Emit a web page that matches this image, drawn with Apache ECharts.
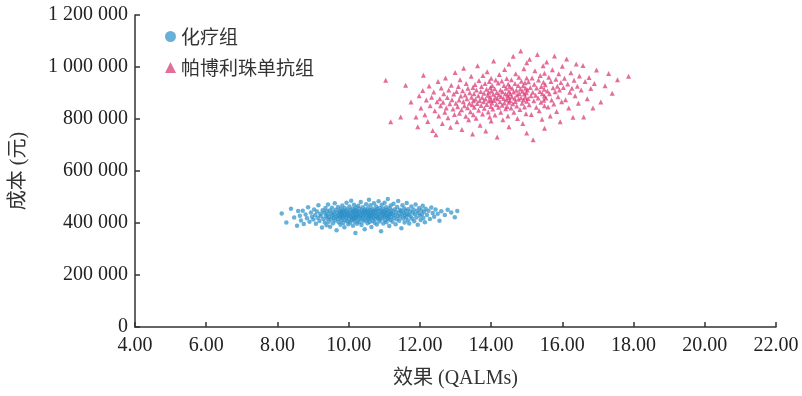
<!DOCTYPE html>
<html>
<head>
<meta charset="utf-8">
<script src="https://cdn.jsdelivr.net/npm/echarts@6/dist/echarts.min.js"></script>
<style>
  html, body { margin: 0; padding: 0; background: #fff; }
  #chart { width: 802px; height: 396px; }
</style>
</head>
<body>
<div id="chart"></div>
<script>
// 图例名称
var seriesNames = ["化疗组", "帕博利珠单抗组"];
// 坐标轴刻度
var xTicks = [4, 6, 8, 10, 12, 14, 16, 18, 20, 22];
var yTicks = [0, 200000, 400000, 600000, 800000, 1000000, 1200000];

// 化疗组 [效果 QALMs, 成本 元]
var chemoPoints = [
  [8.12,437000],[8.25,402000],[8.38,455000],[8.47,421000],[8.55,389000],[8.58,446000],
  [8.63,428000],[8.66,410000],[8.71,447000],[8.74,396000],[8.79,433000],[8.83,418000],[8.86,461000],[8.9,405000],[8.94,440000],[8.97,424000],
  [9.01,413000],[9.03,452000],[9.06,431000],[9.08,397000],[9.11,444000],[9.13,420000],[9.15,468000],[9.18,408000],[9.2,436000],[9.22,426000],
  [9.25,383000],[9.27,449000],[9.29,415000],[9.31,439000],[9.33,402000],[9.35,458000],[9.36,428000],[9.38,391000],[9.39,445000],[9.4,417000],
  [9.41,433000],[9.42,471000],[9.44,405000],[9.45,422000],[9.47,448000],[9.48,386000],[9.5,437000],[9.51,414000],[9.53,459000],[9.54,428000],
  [9.56,399000],[9.57,443000],[9.58,419000],[9.6,434000],[9.61,476000],[9.62,410000],[9.64,451000],[9.65,425000],[9.66,372000],[9.68,440000],
  [9.69,416000],[9.7,462000],[9.71,430000],[9.72,403000],[9.74,446000],[9.75,421000],[9.76,437000],[9.77,393000],[9.78,455000],[9.79,427000],
  [9.8,411000],[9.8,442000],
  [9.81,433000],[9.82,467000],[9.83,418000],[9.84,448000],[9.85,400000],[9.86,426000],[9.87,441000],[9.88,384000],[9.89,458000],[9.9,431000],
  [9.91,412000],[9.92,445000],[9.93,422000],[9.94,478000],[9.95,437000],[9.96,407000],[9.97,452000],[9.98,428000],[9.99,395000],[10.0,440000],
  [10.01,417000],[10.02,463000],[10.03,433000],[10.04,402000],[10.05,449000],[10.06,425000],[10.07,486000],[10.08,411000],[10.09,439000],[10.1,420000],
  [10.11,455000],[10.12,389000],[10.12,430000],[10.13,444000],[10.14,414000],[10.15,470000],[10.16,436000],[10.17,405000],[10.18,451000],[10.18,423000],
  [10.19,362000],[10.2,441000],[10.2,418000],[10.21,460000],[10.22,429000],
  [10.23,397000],[10.24,446000],[10.25,432000],[10.26,412000],[10.27,466000],[10.28,425000],[10.29,443000],[10.3,403000],[10.31,455000],[10.32,436000],
  [10.33,419000],[10.34,481000],[10.35,429000],[10.36,392000],[10.37,448000],[10.38,414000],[10.39,439000],[10.4,461000],[10.41,425000],[10.42,407000],
  [10.43,444000],[10.44,433000],[10.45,376000],[10.46,452000],[10.47,420000],[10.48,438000],[10.49,472000],[10.5,411000],[10.51,446000],[10.52,428000],
  [10.53,399000],[10.54,457000],[10.55,435000],[10.55,416000],[10.56,442000],[10.57,489000],[10.58,424000],[10.59,404000],[10.6,450000],[10.6,431000],
  [10.61,468000],[10.62,417000],[10.63,440000],[10.64,385000],[10.65,427000],[10.66,455000],[10.67,409000],[10.68,437000],[10.69,446000],[10.7,421000],
  [10.71,476000],[10.72,433000],[10.73,401000],[10.74,449000],[10.75,415000],[10.76,440000],[10.77,463000],[10.78,426000],[10.79,394000],[10.8,453000],
  [10.81,432000],[10.82,418000],[10.83,444000],[10.84,484000],[10.85,423000],[10.86,406000],[10.87,458000],[10.88,436000],[10.89,413000],[10.9,447000],
  [10.91,368000],[10.92,429000],[10.93,470000],[10.94,440000],[10.95,419000],[10.96,455000],[10.97,398000],[10.98,434000],[10.99,446000],[11.0,425000],
  [11.01,478000],[11.02,411000],[11.03,441000],[11.04,430000],[11.05,461000],[11.06,403000],[11.07,450000],[11.08,421000],[11.09,437000],[11.1,492000],
  [11.11,416000],[11.12,445000],[11.13,428000],[11.14,388000],[11.15,457000],[11.16,434000],[11.17,412000],[11.18,467000],[11.19,439000],[11.2,423000],
  [11.21,448000],[11.23,405000],[11.24,436000],[11.26,474000],[11.27,419000],[11.29,452000],[11.3,431000],[11.32,395000],[11.33,443000],[11.35,414000],
  [11.36,462000],[11.38,427000],[11.39,485000],[11.41,438000],[11.42,409000],[11.44,451000],[11.45,424000],[11.47,446000],[11.48,380000],[11.5,433000],
  [11.51,468000],[11.53,417000],[11.54,440000],[11.56,456000],[11.57,402000],[11.58,429000],[11.6,447000],[11.61,421000],[11.63,477000],[11.64,436000],
  [11.66,411000],[11.67,453000],[11.69,432000],[11.7,398000],[11.72,444000],
  [11.74,425000],[11.76,463000],[11.78,416000],[11.8,440000],[11.82,452000],[11.84,407000],[11.86,434000],[11.88,471000],[11.9,421000],[11.92,447000],
  [11.94,393000],[11.96,438000],[11.98,458000],[12.0,428000],[12.02,412000],[12.04,449000],[12.06,434000],[12.08,466000],[12.1,419000],[12.12,443000],
  [12.14,403000],[12.16,455000],
  [12.2,431000],[12.24,447000],[12.28,415000],[12.32,460000],[12.36,438000],[12.4,424000],[12.44,452000],[12.5,436000],[12.55,409000],[12.6,445000],
  [12.7,431000],[12.78,451000],[12.88,440000],[12.98,422000],[13.05,446000]
];

// 帕博利珠单抗组 [效果 QALMs, 成本 元]
var pembroPoints = [
  [11.04,949000],[11.18,789000],[11.46,808000],[11.6,930000],[11.75,865000],[11.89,808000],[11.94,770000],[11.98,889000],
  [12.03,842000],[12.08,910000],[12.1,968000],[12.14,816000],[12.18,873000],[12.22,790000],[12.26,927000],[12.29,851000],[12.33,884000],[12.36,756000],
  [12.39,904000],[12.42,832000],[12.45,739000],[12.48,866000],
  [12.51,944000],[12.53,812000],[12.56,878000],[12.58,851000],[12.6,919000],[12.63,783000],[12.65,864000],[12.67,897000],[12.7,826000],[12.72,958000],
  [12.74,842000],[12.77,883000],[12.79,805000],[12.81,912000],[12.84,859000],[12.86,768000],[12.88,930000],[12.9,874000],[12.93,838000],[12.95,896000],
  [12.97,817000],[12.99,979000],
  [13.01,861000],[13.03,906000],[13.04,789000],[13.06,847000],[13.08,925000],[13.1,873000],[13.11,822000],[13.13,951000],[13.15,888000],[13.17,836000],
  [13.18,760000],[13.2,909000],[13.22,866000],[13.23,995000],[13.25,851000],[13.27,892000],[13.29,811000],[13.3,937000],[13.32,878000],[13.34,843000],
  [13.35,918000],[13.37,797000],[13.39,861000],[13.4,901000],[13.42,828000],[13.44,964000],[13.45,884000],[13.47,855000],[13.48,742000],[13.49,921000],
  [13.5,870000],[13.5,816000],
  [13.52,897000],[13.53,845000],[13.55,933000],[13.56,876000],[13.58,803000],[13.59,912000],[13.61,860000],[13.62,1005000],[13.64,889000],[13.65,834000],
  [13.66,948000],[13.68,871000],[13.69,776000],[13.71,906000],[13.72,852000],[13.73,925000],[13.75,883000],[13.76,819000],[13.77,967000],[13.79,866000],
  [13.8,899000],[13.81,841000],[13.83,937000],[13.84,877000],[13.85,754000],[13.87,914000],[13.88,856000],[13.89,982000],[13.91,891000],[13.92,827000],
  [13.93,903000],[13.94,869000],[13.95,944000],[13.96,808000],[13.97,885000],[13.98,921000],[13.99,848000],[14.0,874000],[14.0,957000],[14.0,792000],
  [14.01,908000],[14.02,862000],[14.03,929000],[14.05,838000],[14.06,895000],[14.07,1023000],[14.08,871000],[14.1,916000],[14.11,815000],[14.12,884000],
  [14.13,950000],[14.15,856000],[14.16,902000],[14.17,731000],[14.18,878000],[14.2,938000],[14.21,845000],[14.22,893000],[14.23,971000],[14.25,866000],
  [14.26,912000],[14.27,826000],[14.28,887000],[14.3,946000],[14.31,853000],[14.32,905000],[14.33,797000],[14.35,879000],[14.36,929000],[14.37,862000],
  [14.38,990000],[14.4,897000],[14.41,839000],[14.42,918000],[14.43,874000],[14.44,956000],[14.45,848000],[14.46,891000],[14.47,812000],[14.48,935000],
  [14.49,883000],[14.5,864000],[14.5,1012000],[14.5,907000],[14.5,770000],
  [14.52,925000],[14.53,871000],[14.54,897000],[14.56,842000],[14.57,951000],[14.58,886000],[14.59,918000],[14.61,859000],[14.62,1041000],[14.63,904000],
  [14.64,826000],[14.66,880000],[14.67,937000],[14.68,867000],[14.69,974000],[14.71,911000],[14.72,850000],[14.73,892000],[14.74,802000],[14.76,929000],
  [14.77,876000],[14.78,961000],[14.79,898000],[14.81,837000],[14.82,915000],[14.83,1062000],[14.84,882000],[14.85,945000],[14.87,861000],[14.88,907000],
  [14.89,783000],[14.9,928000],[14.91,873000],[14.92,993000],[14.93,896000],[14.94,846000],[14.95,939000],[14.96,884000],[14.97,918000],[14.98,820000],
  [14.99,901000],[15.0,958000],[15.0,868000],[15.0,1016000],[15.0,746000],
  [15.02,912000],[15.04,879000],[15.05,943000],[15.07,855000],[15.08,1030000],[15.1,921000],[15.12,889000],[15.13,817000],[15.15,958000],[15.17,903000],
  [15.18,720000],[15.2,870000],[15.21,934000],[15.23,986000],[15.25,891000],[15.27,845000],[15.28,919000],[15.3,1048000],[15.32,881000],[15.33,950000],
  [15.35,832000],[15.37,906000],[15.38,967000],[15.4,864000],[15.41,925000],[15.43,799000],[15.44,897000],[15.46,1005000],[15.47,941000],[15.48,872000],
  [15.49,914000],[15.5,851000],[15.5,976000],[15.5,888000],[15.5,764000],
  [15.52,932000],[15.54,881000],[15.56,1019000],[15.58,908000],[15.6,846000],[15.62,961000],[15.64,897000],[15.66,812000],[15.68,944000],[15.7,873000],
  [15.72,989000],[15.74,920000],[15.76,858000],[15.78,1042000],[15.8,905000],[15.82,953000],[15.84,829000],[15.86,926000],[15.88,886000],[15.9,974000],
  [15.92,912000],[15.94,789000],[15.96,940000],[15.98,866000],[16.0,1003000],
  [16.03,921000],[16.06,957000],[16.09,874000],[16.12,1031000],[16.15,935000],[16.18,842000],[16.21,903000],[16.24,978000],[16.27,918000],[16.3,807000],
  [16.33,949000],[16.36,889000],[16.39,1012000],[16.42,926000],[16.45,861000],[16.48,965000],
  [16.53,912000],[16.58,1006000],[16.6,808000],[16.64,944000],[16.7,878000],[16.75,960000],[16.8,917000],[16.86,842000],[16.9,937000],[16.96,988000],
  [17.08,865000],[17.2,928000],[17.3,975000],[17.4,899000],[17.55,951000],[17.86,964000]
];

var chart = echarts.init(document.getElementById("chart"));

var fontFamily = '"Liberation Serif", "Times New Roman", "Noto Sans CJK SC", serif';

var option = {
  animation: false,
  textStyle: { fontFamily: fontFamily },
  grid: { left: 135, right: 26, top: 15, bottom: 69 },
  legend: {
    orient: "vertical",
    left: 160,
    top: 22,
    itemWidth: 11,
    itemHeight: 11,
    itemGap: 12,
    data: [
      { name: seriesNames[0], icon: "circle" },
      { name: seriesNames[1], icon: "triangle" }
    ],
    textStyle: {
      fontFamily: '"Noto Sans CJK SC", sans-serif',
      fontSize: 19,
      color: "#333"
    }
  },
  xAxis: {
    type: "value",
    min: xTicks[0],
    max: xTicks[xTicks.length - 1],
    interval: 2,
    name: "效果 (QALMs)",
    nameLocation: "middle",
    nameGap: 42,
    nameTextStyle: { fontSize: 20, color: "#333", fontFamily: fontFamily },
    axisLine: { lineStyle: { color: "#333", width: 1.5 } },
    axisTick: { inside: true, length: 5, lineStyle: { color: "#333", width: 1.5 } },
    axisLabel: {
      fontSize: 20,
      color: "#222",
      margin: 9,
      formatter: function (v) { return v.toFixed(2); }
    },
    splitLine: { show: false }
  },
  yAxis: {
    type: "value",
    min: yTicks[0],
    max: yTicks[yTicks.length - 1],
    interval: 200000,
    name: "成本 (元)",
    nameLocation: "middle",
    nameGap: 106,
    nameTextStyle: { fontSize: 20, color: "#333", fontFamily: fontFamily },
    axisLine: { show: true, lineStyle: { color: "#333", width: 1.5 } },
    axisTick: { show: true, inside: true, length: 5, lineStyle: { color: "#333", width: 1.5 } },
    axisLabel: {
      fontSize: 20,
      color: "#222",
      margin: 7,
      formatter: function (v) {
        return String(v).replace(/\B(?=(\d{3})+(?!\d))/g, " ");
      }
    },
    splitLine: { show: false }
  },
  series: [
    {
      name: seriesNames[0],
      type: "scatter",
      symbol: "circle",
      symbolSize: 4.5,
      data: chemoPoints,
      itemStyle: { color: "#2a8ec8", opacity: 0.7 }
    },
    {
      name: seriesNames[1],
      type: "scatter",
      symbol: "triangle",
      symbolSize: 5,
      data: pembroPoints,
      itemStyle: { color: "#d8316f", opacity: 0.7 }
    }
  ]
};

chart.setOption(option);
window.addEventListener("resize", function () {
  chart.resize();
});
</script>
</body>
</html>
